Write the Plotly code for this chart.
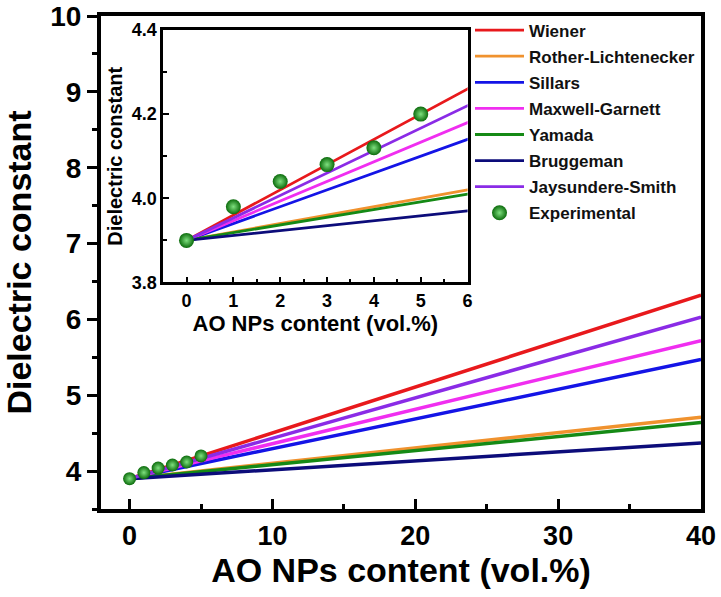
import plotly.graph_objects as go

# ---- data ----
model_names = ["Wiener", "Rother-Lichtenecker", "Sillars", "Maxwell-Garnett",
               "Yamada", "Bruggeman", "Jaysundere-Smith"]
model_colors = ["#e8191c", "#f0922e", "#1414e6", "#f02ef0", "#158a15", "#0c0c7a", "#8a2be6"]
model_x = [0, 6, 40]
model_y = {
    "Wiener":              [3.90, 4.26, 6.32],
    "Rother-Lichtenecker": [3.90, 4.02, 4.71],
    "Sillars":             [3.90, 4.14, 5.47],
    "Maxwell-Garnett":     [3.90, 4.18, 5.72],
    "Yamada":              [3.90, 4.01, 4.64],
    "Bruggeman":           [3.90, 3.97, 4.37],
    "Jaysundere-Smith":    [3.90, 4.22, 6.03],
}
exp_x = [0, 1, 2, 3, 4, 5]
exp_y = [3.90, 3.98, 4.04, 4.08, 4.12, 4.20]

FONT = "Liberation Sans, Arial, sans-serif"

fig = go.Figure()

# main plot lines
for name, col in zip(model_names, model_colors):
    fig.add_trace(go.Scatter(x=model_x, y=model_y[name], mode="lines",
                             line=dict(color=col, width=3.5), name=name,
                             showlegend=False, xaxis="x", yaxis="y"))
fig.add_trace(go.Scatter(x=exp_x, y=exp_y, mode="markers", name="Experimental",
                         marker=dict(size=13, color="#0b6b0b", line=dict(width=0),
                                     gradient=dict(type="radial", color="#7fe07f")),
                         showlegend=False, xaxis="x", yaxis="y"))

# inset lines
for name, col in zip(model_names, model_colors):
    fig.add_trace(go.Scatter(x=model_x, y=model_y[name], mode="lines",
                             line=dict(color=col, width=2.8), name=name,
                             legendgroup=name, showlegend=True,
                             xaxis="x2", yaxis="y2"))
fig.add_trace(go.Scatter(x=exp_x, y=exp_y, mode="markers", name="Experimental",
                         legendgroup="Experimental", showlegend=True,
                         marker=dict(size=15, color="#0b6b0b", line=dict(width=0),
                                     gradient=dict(type="radial", color="#7fe07f")),
                         xaxis="x2", yaxis="y2"))

fig.update_layout(
    width=721, height=597,
    margin=dict(l=101, r=20, t=16, b=88, autoexpand=False),
    paper_bgcolor="white", plot_bgcolor="white",
    font=dict(family=FONT, color="black"),
    showlegend=True,
    legend=dict(x=0.615, y=1.007, xanchor="left", yanchor="top",
                font=dict(family=FONT, size=17, color="#111111", weight="bold"),
                bgcolor="rgba(0,0,0,0)", traceorder="grouped", tracegroupgap=1,
                itemwidth=49),
    xaxis=dict(domain=[0, 1], range=[-2, 40], tickvals=[0, 10, 20, 30, 40],
               ticks="inside", ticklen=10, tickwidth=3, tickcolor="black",
               minor=dict(dtick=5, tick0=0, ticks="inside", ticklen=5, tickwidth=3,
                          tickcolor="black"),
               showline=True, linewidth=4, linecolor="black", mirror=True,
               showgrid=False, zeroline=False, automargin=False,
               tickfont=dict(family=FONT, size=27, weight="bold"),
               title=dict(text="AO NPs content (vol.%)", standoff=8,
                          font=dict(family=FONT, size=34, weight="bold"))),
    yaxis=dict(domain=[0, 1], range=[3.5, 10], tickvals=[4, 5, 6, 7, 8, 9, 10],
               ticks="outside", ticklen=10, tickwidth=3, tickcolor="black",
               minor=dict(dtick=0.5, tick0=0, ticks="outside", ticklen=5, tickwidth=3,
                          tickcolor="black"),
               showline=True, linewidth=4, linecolor="black", mirror=True,
               showgrid=False, zeroline=False, automargin=False,
               tickfont=dict(family=FONT, size=28, weight="bold"),
               title=dict(text="Dielectric constant", standoff=10,
                          font=dict(family=FONT, size=34, weight="bold"))),
    xaxis2=dict(domain=[0.1035, 0.611], anchor="y2", range=[-0.5, 6],
                tickvals=[0, 1, 2, 3, 4, 5, 6],
                ticks="inside", ticklen=6, tickwidth=2, tickcolor="black",
                minor=dict(dtick=0.5, tick0=0, ticks="inside", ticklen=4, tickwidth=2,
                           tickcolor="black"),
                showline=True, linewidth=2.5, linecolor="black", mirror=True,
                showgrid=False, zeroline=False, automargin=False,
                tickfont=dict(family=FONT, size=18, weight="bold"),
                title=dict(text="AO NPs content (vol.%)", standoff=1,
                           font=dict(family=FONT, size=22, weight="bold"))),
    yaxis2=dict(domain=[0.4595, 0.9717], anchor="x2", range=[3.8, 4.4],
                tickvals=[3.8, 4.0, 4.2, 4.4], ticktext=["3.8", "4.0", "4.2", "4.4"],
                ticks="inside", ticklen=6, tickwidth=2, tickcolor="black",
                minor=dict(dtick=0.1, tick0=3.8, ticks="inside", ticklen=4, tickwidth=2,
                           tickcolor="black"),
                showline=True, linewidth=2.5, linecolor="black", mirror=True,
                showgrid=False, zeroline=False, automargin=False,
                tickfont=dict(family=FONT, size=18, weight="bold"),
                title=dict(text="Dielectric constant", standoff=4,
                           font=dict(family=FONT, size=20, weight="bold"))),
)

fig.write_html("out.html")
